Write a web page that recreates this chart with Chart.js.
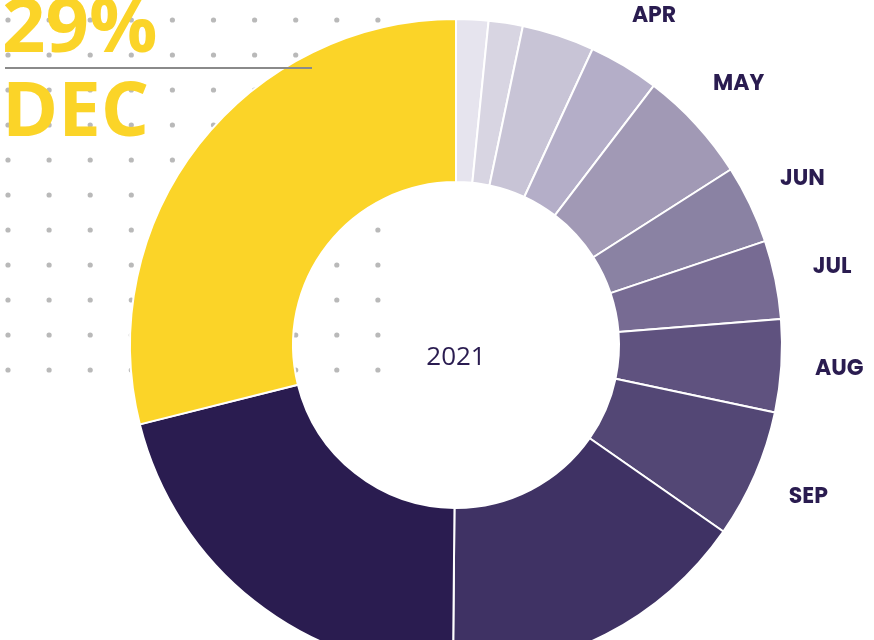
<!DOCTYPE html>
<html><head><meta charset="utf-8">
<script src="https://cdn.jsdelivr.net/npm/chart.js@4"></script>
<style>html,body{margin:0;padding:0;overflow:hidden;background:#fff;width:874px;height:640px}
#wrap{position:absolute;left:0;top:0;width:874px;height:690px}</style>
</head><body>
<div id="wrap"><canvas id="c" width="874" height="690"></canvas></div>
<script>
const months = ["JAN","FEB","MAR","APR","MAY","JUN","JUL","AUG","SEP","OCT","NOV","DEC"];
const shares = [1.6,1.7,3.6,3.5,5.6,3.9,3.9,4.6,6.4,15.5,21,29];
const colors = ["#e6e4ee","#d8d5e2","#c8c4d6","#b4aec8","#a199b5","#8a82a3","#776b93","#5f527f","#534775","#3f3264","#2a1c50","#fbd428"];
const labelled = ["MAR","APR","MAY","JUN","JUL","AUG","SEP"];
const centerText = "2021";
const highlight = {value:"29%", month:"DEC"};

const deco = {
  id:"deco",
  beforeDraw(chart){
    const ctx=chart.ctx; ctx.save(); ctx.fillStyle="#b9b9b9";
    for(let i=0;i<10;i++) for(let j=0;j<11;j++){
      ctx.beginPath(); ctx.arc(8+i*41.1, 20+j*35, 2.6, 0, Math.PI*2); ctx.fill();
    }
    ctx.restore();
  },
  afterDraw(chart){
    const ctx=chart.ctx; ctx.save();
    const meta=chart.getDatasetMeta(0);
    ctx.fillStyle="#2a1c50"; ctx.font="bold 22px Poppins, Montserrat, 'Open Sans', sans-serif";
    ctx.textAlign="center"; ctx.textBaseline="middle";
    meta.data.forEach((arc,i)=>{
      if(!labelled.includes(months[i])) return;
      const a=(arc.startAngle+arc.endAngle)/2;
      const r=arc.outerRadius+58;
      ctx.fillText(months[i], arc.x+Math.cos(a)*r, arc.y+Math.sin(a)*r);
    });
    const a0=meta.data[0];
    ctx.font="26px 'Open Sans', sans-serif";
    ctx.fillText(centerText, a0.x, a0.y+13);
    ctx.fillStyle="#fbd428"; ctx.textAlign="left"; ctx.textBaseline="alphabetic";
    ctx.font="bold 76px 'Open Sans', sans-serif";
    ctx.fillText(highlight.value, 2, 52);
    ctx.fillText(highlight.month, 2, 136);
    ctx.strokeStyle="#8a8a8a"; ctx.lineWidth=2;
    ctx.beginPath(); ctx.moveTo(5,68); ctx.lineTo(312,68); ctx.stroke();
    ctx.restore();
  }
};

new Chart(document.getElementById("c"),{
  type:"doughnut",
  data:{labels:months,datasets:[{data:shares,backgroundColor:colors,borderColor:"#fff",borderWidth:2}]},
  options:{responsive:false,animation:false,cutout:"50%",
    layout:{padding:{left:129,right:91,top:18,bottom:18}},
    plugins:{legend:{display:false},tooltip:{enabled:false}}},
  plugins:[deco]
});
</script></body></html>
